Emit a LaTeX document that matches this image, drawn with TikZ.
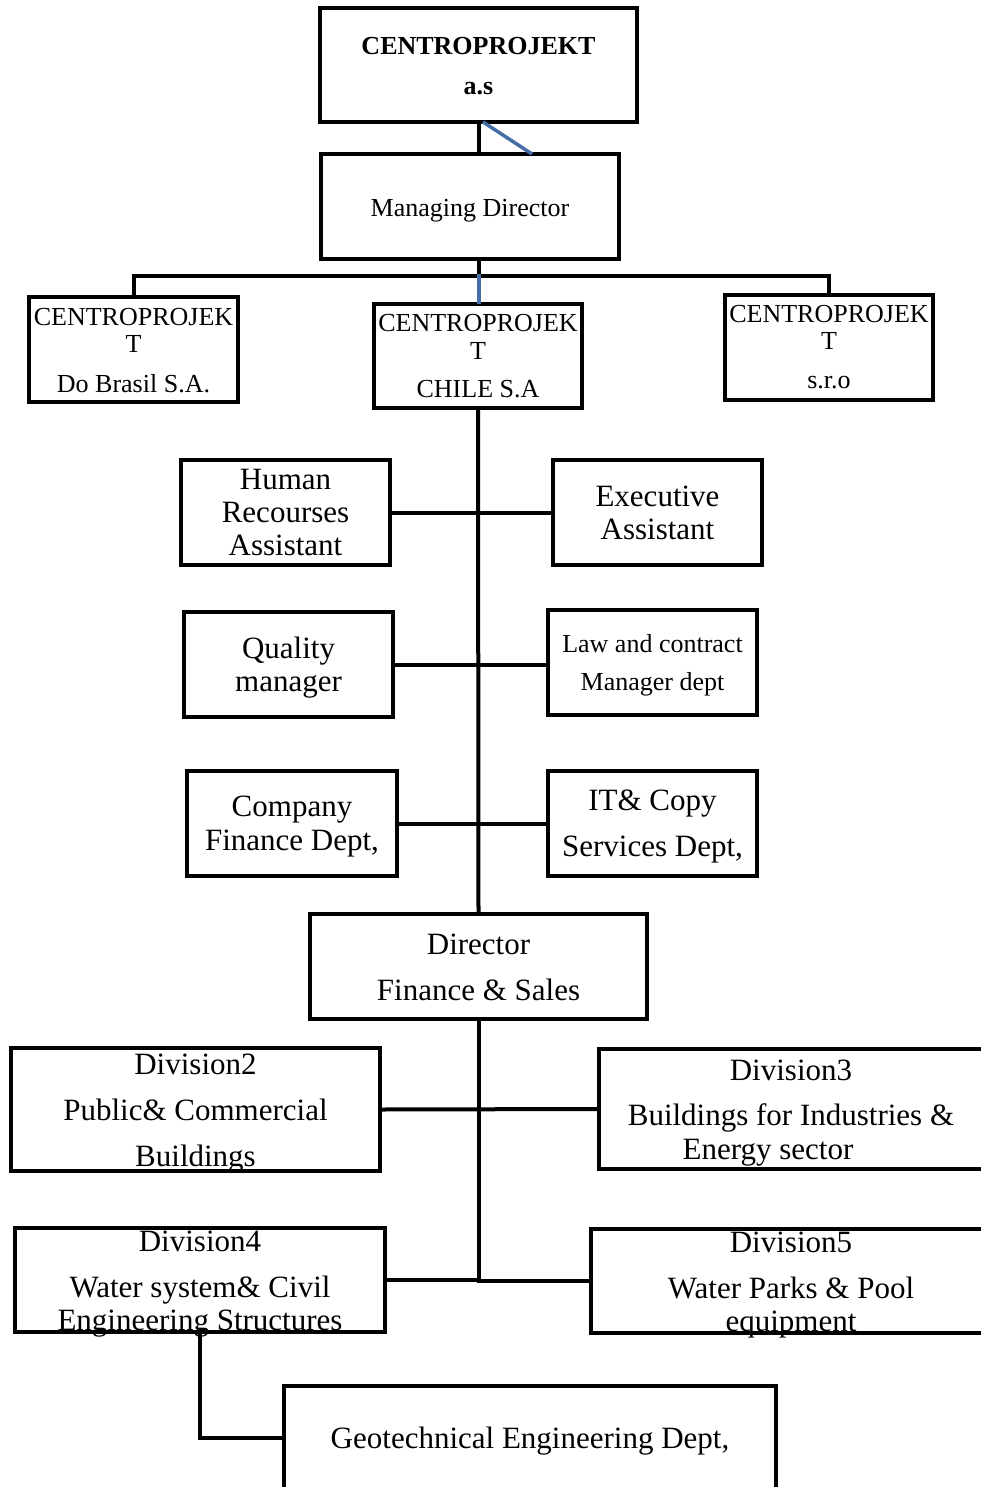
\documentclass[tikz,border=0pt]{standalone}
\usepackage{fontspec}
\setmainfont{Liberation Serif}
\definecolor{linkblue}{RGB}{68,110,165}
\newcommand{\lowr}[1]{\rule{0pt}{#1pt}}
\begin{document}
\begin{tikzpicture}[x=1pt,y=-1pt,
  box/.style={draw=black, line width=4pt, rectangle, inner xsep=0pt, inner ysep=-20pt, outer sep=0pt, align=center, fill=white},
  conn/.style={line width=4pt, black},
  bconn/.style={line width=3.5pt, linkblue},
  bigA/.style={font=\fontsize{31}{33}\selectfont},
  bigB/.style={font=\fontsize{31}{46}\selectfont},
  midA/.style={font=\fontsize{26}{28}\selectfont}]
\useasboundingbox (0,0) rectangle (980,1487);

% boxes
\node[box, minimum width=317, minimum height=114, font=\fontsize{26}{40}\selectfont\bfseries] (top) at (478.5,65) {\lowr{19}CENTROPROJEKT\\a.s};
\node[box, minimum width=298, minimum height=105, font=\fontsize{26}{28}\selectfont] (md) at (470,206.5) {\lowr{25}Managing Director};
\node[box, minimum width=209, minimum height=105, font=\fontsize{26}{27}\selectfont] (brazil) at (133.5,349.5) {\lowr{19}CENTROPROJEK\\T\\[13pt]Do Brasil S.A.};
\node[box, minimum width=208, minimum height=104, font=\fontsize{26}{28}\selectfont] (chile) at (478,356) {CENTROPROJEK\\T\\[10pt]CHILE S.A};
\node[box, minimum width=208, minimum height=105, font=\fontsize{26}{27}\selectfont] (sro) at (829,347.5) {CENTROPROJEK\\T\\[12pt]s.r.o};

\node[box, bigA, minimum width=209, minimum height=105] (hr) at (285.5,512.5) {Human\\Recourses\\Assistant};
\node[box, bigA, minimum width=209, minimum height=105] (exec) at (657.5,512.5) {Executive\\Assistant};
\node[box, bigA, minimum width=209, minimum height=105] (qual) at (288.5,664.5) {\lowr{28}Quality\\manager};
\node[box, minimum width=209, minimum height=105, font=\fontsize{26}{38}\selectfont] (law) at (652.5,662.5) {\lowr{24}Law and contract\\Manager dept};
\node[box, font=\fontsize{31}{34}\selectfont, minimum width=210, minimum height=105] (comp) at (292,823.5) {\lowr{27.5}Company\\Finance Dept,};
\node[box, bigB, minimum width=209, minimum height=105] (it) at (652.5,823.5) {\lowr{27.5}IT\& Copy\\Services Dept,};
\node[box, bigB, minimum width=337, minimum height=105] (dir) at (478.5,966.5) {\lowr{23}Director\\Finance \& Sales};

\node[box, bigB, minimum width=369, minimum height=123] (div2) at (195.5,1109.5) {\lowr{28}Division2\\Public\& Commercial\\Buildings};
\node[box, font=\fontsize{31}{34}\selectfont, minimum width=384, minimum height=120] (div3) at (791,1109) {\lowr{29}Division3\\[11pt]Buildings for Industries \&\\Energy sector\hspace*{46pt}};
\node[box, bigA, minimum width=370, minimum height=104] (div4) at (200,1280) {\lowr{28}Division4\\[13pt]Water system\& Civil\\Engineering Structures};
\node[box, bigA, minimum width=400, minimum height=104] (div5) at (791,1281) {\lowr{29}Division5\\[13pt]Water Parks \& Pool\\equipment};
\node[box, bigA, minimum width=492, minimum height=104] (geo) at (530,1438) {\lowr{27.5}Geotechnical Engineering Dept,};

% bus coordinates
\coordinate (busL) at (133.5,276);
\coordinate (busR) at (829,276);
\coordinate (busM) at (479,276);

% connectors
\draw[conn] ([xshift=9]md.north) -- ([xshift=9]md.north |- top.south);
\draw[bconn] ([xshift=4.5]top.south) -- ([xshift=62]md.north);
\draw[conn] ([xshift=9]md.south) -- (busM);
\draw[conn] ([xshift=-2]busL) -- ([xshift=2]busR);
\draw[conn] (brazil.north) -- (busL);
\draw[conn] (sro.north) -- (busR);
\draw[bconn] ([yshift=2]busM) -- ([xshift=1]chile.north);

\coordinate (spineEnd) at (478.5,1280);
\draw[conn] (chile.south) -- (dir.north);
\draw[conn] (dir.south) -- ([yshift=2]spineEnd);

\draw[conn] (hr.east) -- (exec.west);
\draw[conn] (qual.east) -- (qual.east -| law.west);
\draw[conn] (comp.east) -- (it.west);
\draw[conn] (div2.east) -- (div3.west);
\draw[conn] (div4.east) -- ([xshift=2]spineEnd);
\draw[conn] ([xshift=-2]spineEnd |- div5.west) -- (div5.west);
\draw[conn] (div4.south) |- (geo.west);
\end{tikzpicture}
\end{document}
